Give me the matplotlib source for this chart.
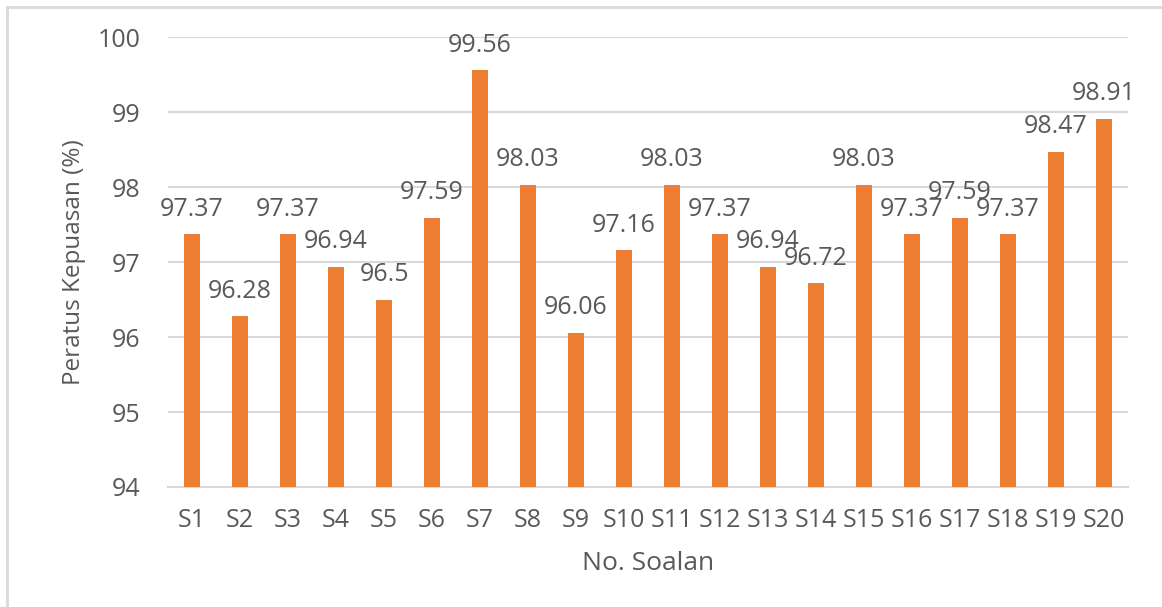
import matplotlib.pyplot as plt
from matplotlib.lines import Line2D

# data
soalan = ['S' + str(i) for i in range(1, 21)]
peratus = [97.37, 96.28, 97.37, 96.94, 96.5, 97.59, 99.56, 98.03, 96.06, 97.16,
           98.03, 97.37, 96.94, 96.72, 98.03, 97.37, 97.59, 97.37, 98.47, 98.91]
label_teks = ['97.37', '96.28', '97.37', '96.94', '96.5', '97.59', '99.56', '98.03', '96.06', '97.16',
              '98.03', '97.37', '96.94', '96.72', '98.03', '97.37', '97.59', '97.37', '98.47', '98.91']

plt.rcParams['font.family'] = ['Open Sans', 'DejaVu Sans']
grey = '#595959'

fig = plt.figure(figsize=(11.62, 6.07), dpi=100)
ax = fig.add_axes([0.1446, 0.1977, 0.8261, 0.7413])

x = range(len(soalan))
bars = ax.bar(x, [v - 94 for v in peratus], bottom=94, width=0.33, color='#ED7D31', zorder=3)

for b, t in zip(bars, label_teks):
    ax.annotate(t, (b.get_x() + b.get_width() / 2, b.get_y() + b.get_height()),
                xytext=(0, 9), textcoords='offset points', ha='center', va='bottom',
                fontsize=18, color=grey, zorder=4)

ax.set_xlim(-0.5, len(soalan) - 0.5)
ax.set_ylim(94, 100)
ax.set_yticks([94, 95, 96, 97, 98, 99, 100])
ax.set_xticks(list(x))
ax.set_xticklabels(soalan)
ax.yaxis.grid(True, color='#D9D9D9', linewidth=1.5, zorder=0)
for s in ['top', 'right', 'left']:
    ax.spines[s].set_visible(False)
ax.spines['bottom'].set_color('#D9D9D9')
ax.spines['bottom'].set_linewidth(1.5)
ax.tick_params(axis='both', length=0, labelsize=18, colors=grey)
ax.tick_params(axis='y', pad=20)
ax.tick_params(axis='x', pad=15)

ax.set_xlabel('No. Soalan', fontsize=19, color=grey, labelpad=13)
ax.set_ylabel('Peratus Kepuasan (%)', fontsize=17.5, color=grey, labelpad=8)

# chart frame (only left and top edges visible in screenshot)
fig.add_artist(Line2D([7 / 1162, 7 / 1162], [0, 1 - 7 / 607], color='#D9D9D9', linewidth=2))
fig.add_artist(Line2D([7 / 1162, 1], [1 - 7 / 607, 1 - 7 / 607], color='#D9D9D9', linewidth=2))

plt.savefig('out.png')
